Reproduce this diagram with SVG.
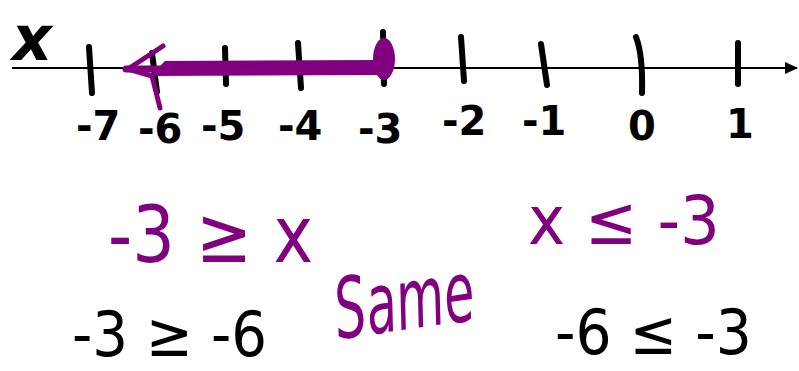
<svg xmlns="http://www.w3.org/2000/svg" width="799" height="371" viewBox="0 0 799 371">
<style>
.tick{stroke:#000;stroke-width:6;stroke-linecap:round;fill:none}
.lbl{font-family:"DejaVu Sans","Liberation Sans",sans-serif;font-size:40px;font-weight:bold;fill:#000}
.pur{font-family:"DejaVu Sans","Liberation Sans",sans-serif;fill:#800080}
.blk{font-family:"DejaVu Sans","Liberation Sans",sans-serif;fill:#000}
</style>
<defs>
<marker id="ah" markerWidth="14" markerHeight="14" refX="12" refY="7" orient="auto" markerUnits="userSpaceOnUse">
<path d="M0,1 L13,7 L0,13 Z" fill="#000"/>
</marker>
</defs>
<rect width="799" height="371" fill="#fff"/>
<g id="axis">
<line x1="12" y1="68" x2="797" y2="68" stroke="#000" stroke-width="2" marker-end="url(#ah)"/>
<text x="12" y="60" class="blk" font-size="62" font-weight="bold" font-style="italic">x</text>
<path class="tick" d="M89,47 L92,93"/>
<path class="tick" d="M152,53 L157,92"/>
<path class="tick" d="M225,48 L226,84"/>
<path class="tick" d="M298,43 L301,88"/>
<path class="tick" d="M383,32 L384,84"/>
<path class="tick" d="M461,37 L464,81"/>
<path class="tick" d="M541,44 L547,85"/>
<path class="tick" d="M636,37 Q643,55 642,93"/>
<path class="tick" d="M738,43 L738,84"/>
<text class="lbl" x="76" y="140">-7</text>
<text class="lbl" x="138" y="143">-6</text>
<text class="lbl" x="201" y="140">-5</text>
<text class="lbl" x="278" y="140">-4</text>
<text class="lbl" x="358" y="143">-3</text>
<text class="lbl" x="442" y="135">-2</text>
<text class="lbl" x="522" y="135">-1</text>
<text class="lbl" x="628" y="140">0</text>
<text class="lbl" x="726" y="138">1</text>
</g>
<g id="ray">
<path d="M165,61 L380,60 L380,75 L150,76 Z" fill="#800080"/>
<path d="M126,69 L380,69" stroke="#800080" stroke-width="7" stroke-linecap="round"/>
<path d="M163,46 L128,69 L152,76 L160,108" stroke="#800080" stroke-width="5" stroke-linecap="round" stroke-linejoin="round" fill="none"/>
<ellipse cx="384" cy="59" rx="11" ry="21" fill="#800080"/>
</g>
<g id="eq1"><text class="pur" x="108" y="262" font-size="78" textLength="205" lengthAdjust="spacingAndGlyphs">-3 ≥ x</text></g>
<g id="eq2"><text class="pur" x="528" y="244" font-size="68" textLength="192" lengthAdjust="spacingAndGlyphs">x ≤ -3</text></g>
<g id="same"><text class="pur" x="334" y="330" font-size="84" font-style="italic" textLength="140" lengthAdjust="spacingAndGlyphs" transform="rotate(-8 400 300)">Same</text></g>
<g id="eq3"><text class="blk" x="72" y="356" font-size="62" textLength="195" lengthAdjust="spacingAndGlyphs">-3 ≥ -6</text></g>
<g id="eq4"><text class="blk" x="555" y="354" font-size="62" textLength="197" lengthAdjust="spacingAndGlyphs">-6 ≤ -3</text></g>
</svg>
